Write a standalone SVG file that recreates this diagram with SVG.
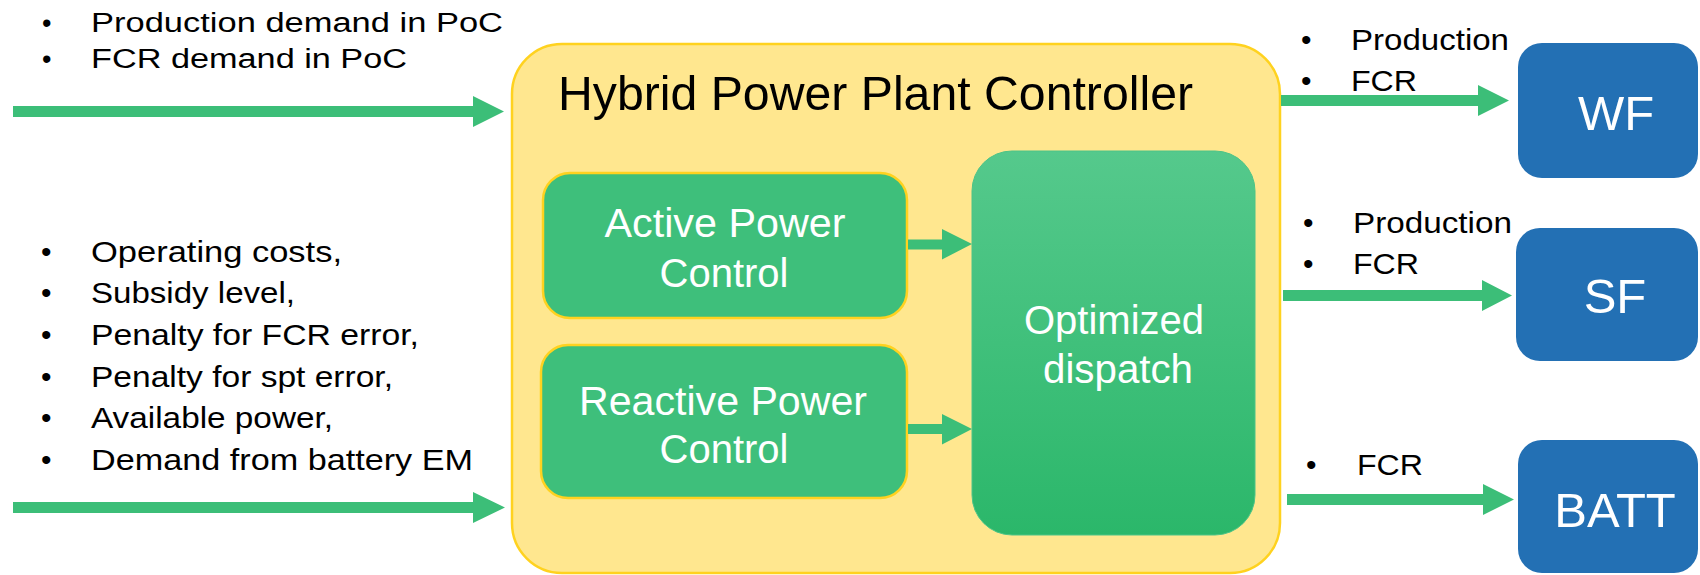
<svg xmlns="http://www.w3.org/2000/svg" width="1700" height="575" viewBox="0 0 1700 575">
<style>
.t{font-family:"Liberation Sans",Arial,sans-serif;fill:#000}
.w{font-family:"Liberation Sans",Arial,sans-serif;fill:#fff}
.g{fill:#3CBE78}
.blue{fill:#2370B4}
.inner{fill:#3EBF7B;stroke:#FFD21F;stroke-width:2.5}
</style>
<defs>
<linearGradient id="og" x1="0" y1="0" x2="0" y2="1">
<stop offset="0" stop-color="#55C98C"/>
<stop offset="1" stop-color="#2BB76A"/>
</linearGradient>
</defs>
<rect width="1700" height="575" fill="#fff"/>

<g id="hppc">
<rect x="512" y="44" width="768" height="529" rx="50" fill="#FFE78F" stroke="#FFD21F" stroke-width="2.5"/>
<text class="t" x="558" y="110" font-size="48" textLength="635" lengthAdjust="spacingAndGlyphs">Hybrid Power Plant Controller</text>
</g>

<g id="apc">
<rect class="inner" x="543" y="173" width="364" height="145" rx="27"/>
<text class="w" x="725" y="237" font-size="40" text-anchor="middle" textLength="241" lengthAdjust="spacingAndGlyphs">Active Power</text>
<text class="w" x="724" y="287" font-size="40" text-anchor="middle" textLength="129" lengthAdjust="spacingAndGlyphs">Control</text>
</g>

<g id="rpc">
<rect class="inner" x="541" y="345" width="366" height="153" rx="27"/>
<text class="w" x="723" y="415" font-size="40" text-anchor="middle" textLength="288" lengthAdjust="spacingAndGlyphs">Reactive Power</text>
<text class="w" x="724" y="463" font-size="40" text-anchor="middle" textLength="129" lengthAdjust="spacingAndGlyphs">Control</text>
</g>

<g id="od">
<rect x="972" y="151" width="283" height="384" rx="40" fill="url(#og)" stroke="#4CC487" stroke-width="1"/>
<text class="w" x="1114" y="334" font-size="40" text-anchor="middle" textLength="180" lengthAdjust="spacingAndGlyphs">Optimized</text>
<text class="w" x="1118" y="383" font-size="40" text-anchor="middle" textLength="150" lengthAdjust="spacingAndGlyphs">dispatch</text>
</g>

<g id="wf">
<rect class="blue" x="1518" y="43" width="180" height="135" rx="24"/>
<text class="w" x="1616" y="130" font-size="49" text-anchor="middle">WF</text>
</g>
<g id="sf">
<rect class="blue" x="1516" y="228" width="182" height="133" rx="24"/>
<text class="w" x="1615" y="313" font-size="49" text-anchor="middle">SF</text>
</g>
<g id="batt">
<rect class="blue" x="1518" y="440" width="180" height="133" rx="24"/>
<text class="w" x="1615" y="527" font-size="49" text-anchor="middle">BATT</text>
</g>

<g id="labels">
<text class="t" x="42" y="32" font-size="27">•</text>
<text class="t" x="91" y="32" font-size="27" textLength="412" lengthAdjust="spacingAndGlyphs">Production demand in PoC</text>
<text class="t" x="42" y="68" font-size="27">•</text>
<text class="t" x="91" y="68" font-size="27" textLength="316" lengthAdjust="spacingAndGlyphs">FCR demand in PoC</text>

<text class="t" x="41" y="262" font-size="30">•</text>
<text class="t" x="91" y="262" font-size="30" textLength="251" lengthAdjust="spacingAndGlyphs">Operating costs,</text>
<text class="t" x="41" y="303" font-size="30">•</text>
<text class="t" x="91" y="303" font-size="30" textLength="204" lengthAdjust="spacingAndGlyphs">Subsidy level,</text>
<text class="t" x="41" y="345" font-size="30">•</text>
<text class="t" x="91" y="345" font-size="30" textLength="328" lengthAdjust="spacingAndGlyphs">Penalty for FCR error,</text>
<text class="t" x="41" y="387" font-size="30">•</text>
<text class="t" x="91" y="387" font-size="30" textLength="302" lengthAdjust="spacingAndGlyphs">Penalty for spt error,</text>
<text class="t" x="41" y="428" font-size="30">•</text>
<text class="t" x="91" y="428" font-size="30" textLength="242" lengthAdjust="spacingAndGlyphs">Available power,</text>
<text class="t" x="41" y="470" font-size="30">•</text>
<text class="t" x="91" y="470" font-size="30" textLength="382" lengthAdjust="spacingAndGlyphs">Demand from battery EM</text>

<text class="t" x="1301" y="50" font-size="30">•</text>
<text class="t" x="1351" y="50" font-size="30" textLength="158" lengthAdjust="spacingAndGlyphs">Production</text>
<text class="t" x="1301" y="91" font-size="30">•</text>
<text class="t" x="1351" y="91" font-size="30" textLength="66" lengthAdjust="spacingAndGlyphs">FCR</text>

<text class="t" x="1303" y="233" font-size="30">•</text>
<text class="t" x="1353" y="233" font-size="30" textLength="159" lengthAdjust="spacingAndGlyphs">Production</text>
<text class="t" x="1303" y="274" font-size="30">•</text>
<text class="t" x="1353" y="274" font-size="30" textLength="66" lengthAdjust="spacingAndGlyphs">FCR</text>

<text class="t" x="1306" y="475" font-size="30">•</text>
<text class="t" x="1357" y="475" font-size="30" textLength="66" lengthAdjust="spacingAndGlyphs">FCR</text>
</g>

<g id="connectors">
<polygon class="g" points="13,106 473,106 473,96 504,111.5 473,127 473,117 13,117"/>
<polygon class="g" points="13,502 473,502 473,492 505,507.5 473,523 473,513 13,513"/>
<polygon class="g" points="908,239.5 942,239.5 942,229 972,244 942,259.5 942,249.5 908,249.5"/>
<polygon class="g" points="908,424 942,424 942,414 972,429 942,444.5 942,434 908,434"/>
<polygon class="g" points="1281,95 1478,95 1478,85 1509,100.5 1478,116 1478,106 1281,106"/>
<polygon class="g" points="1283,290 1482,290 1482,280 1512,295.5 1482,311 1482,301 1283,301"/>
<polygon class="g" points="1287,494 1483,494 1483,484 1514,499.5 1483,515 1483,505 1287,505"/>
</g>
</svg>
